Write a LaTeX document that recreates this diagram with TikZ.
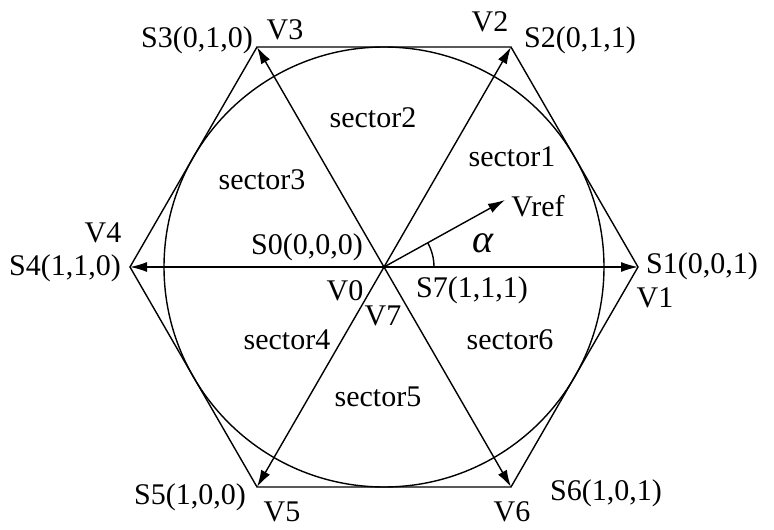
\documentclass[tikz,border=0pt]{standalone}
\usepackage{fontspec}
\setmainfont{Liberation Serif}
\usetikzlibrary{arrows.meta}
\begin{document}
\begin{tikzpicture}[x=1pt,y=-1pt,
  lbl/.style={font=\fontsize{30}{34}\selectfont,inner sep=0pt},
  vec/.style={line width=1.4pt,-{Latex[length=17pt,width=10pt]}},
  line width=1.4pt]
\useasboundingbox (0,0) rectangle (774,530);
\coordinate (O) at (384,267);
\coordinate (P1) at (638,267);
\coordinate (P2) at (511,47);
\coordinate (P3) at (257,47);
\coordinate (P4) at (130,267);
\coordinate (P5) at (257,487);
\coordinate (P6) at (511,487);
\coordinate (R) at (505,200);
\draw (P1)--(P2)--(P3)--(P4)--(P5)--(P6)--cycle;
\draw (O) circle (220);
\foreach \p in {P1,P2,P3,P4,P5,P6} \draw[vec] (O)--(\p);
\draw[vec] (O)--(R);
\draw (434,267) arc (0:-29:50);
\node[lbl] (v3) at (285,30) {V3};
\node[lbl] (s3) at (197,40) {S3(0,1,0)};
\node[lbl] (v2) at (490,22) {V2};
\node[lbl] (s2) at (580,40) {S2(0,1,1)};
\node[lbl] (v4) at (103,233) {V4};
\node[lbl] (s4) at (65,268) {S4(1,1,0)};
\node[lbl] (s1) at (702,266) {S1(0,0,1)};
\node[lbl] (v1) at (655,298) {V1};
\node[lbl] (s0) at (307,247) {S0(0,0,0)};
\node[lbl] (v0) at (345,291) {V0};
\node[lbl] (s7) at (472,290) {S7(1,1,1)};
\node[lbl] (v7) at (383,316) {V7};
\node[lbl] (s5) at (190,497) {S5(1,0,0)};
\node[lbl] (v5) at (282,512) {V5};
\node[lbl] (s6) at (606,493) {S6(1,0,1)};
\node[lbl] (v6) at (512,512) {V6};
\node[lbl] (c2) at (373,118) {sector2};
\node[lbl] (c1) at (512,157) {sector1};
\node[lbl] (c3) at (262,180) {sector3};
\node[lbl] (c4) at (287,340) {sector4};
\node[lbl] (c5) at (378,397) {sector5};
\node[lbl] (c6) at (510,340) {sector6};
\node[lbl] (vr) at (538,206) {Vref};
\node[inner sep=0pt,font=\fontsize{40}{42}\selectfont\itshape] (al) at (483,243) {α};
\end{tikzpicture}
\end{document}
